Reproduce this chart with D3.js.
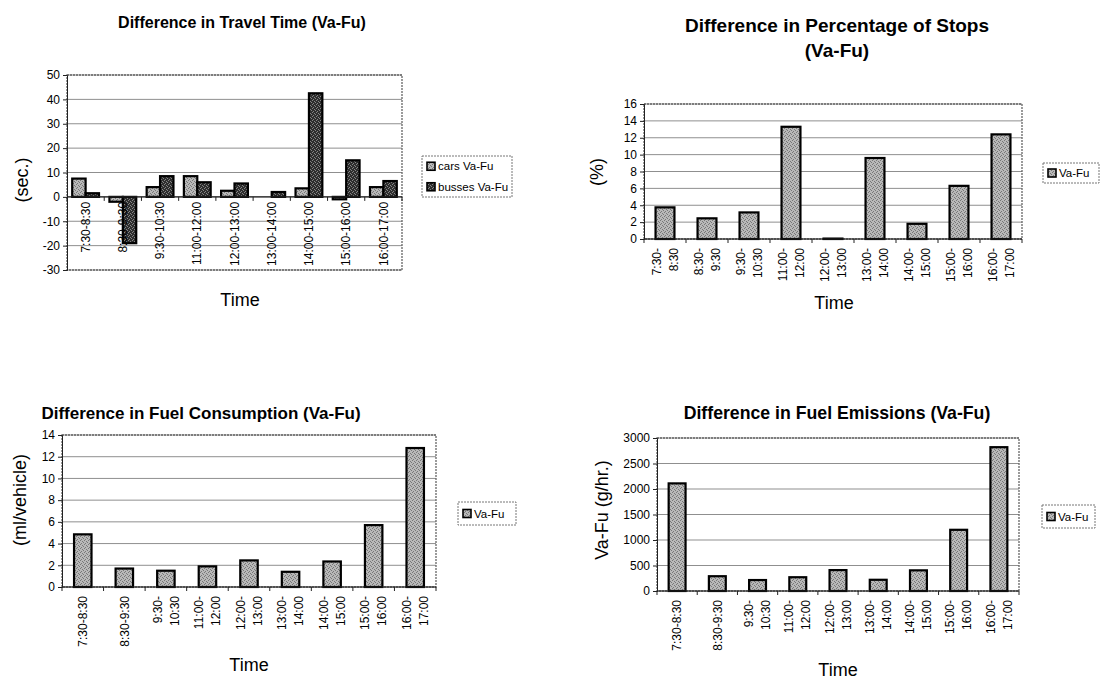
<!DOCTYPE html>
<html>
<head>
<meta charset="utf-8">
<script src="https://cdn.jsdelivr.net/npm/d3@7"></script>
<style>
  body { margin: 0; background: #fff; }
  text { font-family: "Liberation Sans", Arial, sans-serif; fill: #000; }
</style>
</head>
<body>
<script>
var width = 1114,
    height = 682;

// categories
var travelCats = ["7:30-8:30", "8:30-9:30", "9:30-10:30", "11:00-12:00", "12:00-13:00",
                  "13:00-14:00", "14:00-15:00", "15:00-16:00", "16:00-17:00"];
var stopsCats = ["7:30-\n8:30", "8:30-\n9:30", "9:30-\n10:30", "11:00-\n12:00", "12:00-\n13:00",
                 "13:00-\n14:00", "14:00-\n15:00", "15:00-\n16:00", "16:00-\n17:00"];
var fuelCats = ["7:30-8:30", "8:30-9:30", "9:30-\n10:30", "11:00-\n12:00", "12:00-\n13:00",
                "13:00-\n14:00", "14:00-\n15:00", "15:00-\n16:00", "16:00-\n17:00"];

// series values
var carsTravel = [7.5, -2, 4, 8.5, 2.5, 0, 3.5, -1, 4];
var bussesTravel = [1.5, -19, 8.5, 6, 5.5, 2, 42.5, 15, 6.5];
var stopsVals = [3.75, 2.45, 3.15, 13.3, 0.05, 9.6, 1.8, 6.3, 12.4];
var fuelVals = [4.85, 1.7, 1.5, 1.9, 2.45, 1.4, 2.35, 5.7, 12.8];
var emisVals = [2110, 290, 215, 270, 410, 220, 405, 1200, 2820];

// tick labels
var travelTicks = [-30, -20, -10, 0, 10, 20, 30, 40, 50];
var stopsTicks = [0, 2, 4, 6, 8, 10, 12, 14, 16];
var fuelTicks = [0, 2, 4, 6, 8, 10, 12, 14];
var emisTicks = [0, 500, 1000, 1500, 2000, 2500, 3000];

var svg = d3.select("body").append("svg")
    .attr("width", width)
    .attr("height", height);

svg.append("rect").attr("width", width).attr("height", height).attr("fill", "#fff");

// stippled fills like the scanned bars
var defs = svg.append("defs");
function stipple(id, base, dot) {
    var p = defs.append("pattern").attr("id", id)
        .attr("width", 4).attr("height", 4)
        .attr("patternUnits", "userSpaceOnUse");
    p.append("rect").attr("width", 4).attr("height", 4).attr("fill", base);
    [[0, 0], [2, 1], [1, 3], [3, 2]].forEach(function (d) {
        p.append("rect").attr("x", d[0]).attr("y", d[1])
            .attr("width", 1).attr("height", 1).attr("fill", dot);
    });
}
stipple("lightFill", "#b8b8b8", "#777");
stipple("darkFill", "#2e2e2e", "#858585");

function drawChart(o) {
    var g = svg.append("g");
    var x = d3.scaleBand().domain(o.cats).range([o.box[0], o.box[1]]);
    var y = d3.scaleLinear().domain([o.ticks[0], o.ticks[o.ticks.length - 1]])
        .range([o.box[3], o.box[2]]);
    var bw = x.bandwidth();
    var names = o.series.map(function (s) { return s.name; });
    var inner = d3.scaleBand().domain(names)
        .range([-bw * o.groupRatio / 2, bw * o.groupRatio / 2]);

    // gridlines
    g.selectAll(".grid").data(o.ticks).enter().append("line")
        .attr("x1", o.box[0]).attr("x2", o.box[1])
        .attr("y1", function (d) { return y(d); })
        .attr("y2", function (d) { return y(d); })
        .attr("stroke", "#8f8f8f").attr("stroke-width", 1);

    // plot border
    g.append("rect")
        .attr("x", o.box[0]).attr("y", o.box[2])
        .attr("width", o.box[1] - o.box[0]).attr("height", o.box[3] - o.box[2])
        .attr("fill", "none").attr("stroke", "#666")
        .attr("stroke-dasharray", "2,1").attr("stroke-width", 1.3);

    // y axis
    var yAxis = d3.axisLeft(y).tickValues(o.ticks).tickSize(4).tickPadding(3)
        .tickFormat(function (d) { return String(d); });
    var ya = g.append("g").attr("transform", "translate(" + o.box[0] + ",0)").call(yAxis);
    ya.select(".domain").attr("stroke", "#222");
    ya.selectAll("line").attr("stroke", "#222");
    ya.selectAll("text").attr("font-size", "12px")
        .attr("font-family", "Liberation Sans, Arial, sans-serif");

    // bars
    o.series.forEach(function (s) {
        g.selectAll(null).data(s.values).enter().append("rect")
            .attr("x", function (d, i) { return x(o.cats[i]) + bw / 2 + inner(s.name); })
            .attr("width", inner.bandwidth())
            .attr("y", function (d) { return y(Math.max(0, d)); })
            .attr("height", function (d) { return Math.abs(y(d) - y(0)); })
            .attr("fill", s.fill)
            .attr("stroke", "#000").attr("stroke-width", 2.2);
    });

    // category axis at zero
    var y0 = y(0);
    g.append("line").attr("x1", o.box[0]).attr("x2", o.box[1])
        .attr("y1", y0).attr("y2", y0).attr("stroke", "#222").attr("stroke-width", 1.2);
    g.selectAll(null).data(o.cats.concat([null])).enter().append("line")
        .attr("x1", function (d, i) { return o.box[0] + i * bw; })
        .attr("x2", function (d, i) { return o.box[0] + i * bw; })
        .attr("y1", y0).attr("y2", y0 + 4)
        .attr("stroke", "#222");

    // rotated category labels
    o.cats.forEach(function (c) {
        var lines = c.split("\n");
        var cx = x(c) + bw / 2;
        lines.forEach(function (t, j) {
            var lx = cx + (j - (lines.length - 1) / 2) * 17;
            g.append("text")
                .attr("transform", "translate(" + lx + "," + (y0 + o.labelGap) + ") rotate(-90)")
                .attr("text-anchor", "end")
                .attr("dy", "0.35em")
                .attr("font-size", "12px")
                .text(t);
        });
    });

    // titles
    o.title.forEach(function (t, j) {
        g.append("text").attr("x", o.titleX).attr("y", o.titleY + j * 25)
            .attr("text-anchor", "middle").attr("font-size", o.titleSize + "px")
            .attr("font-weight", "bold").text(t);
    });
    g.append("text").attr("x", o.timeX).attr("y", o.timeY)
        .attr("text-anchor", "middle").attr("font-size", "18px").text("Time");
    g.append("text")
        .attr("transform", "translate(" + o.yTitleX + "," + o.yTitleY + ") rotate(-90)")
        .attr("text-anchor", "middle").attr("dy", "0.35em")
        .attr("font-size", "18px").text(o.yTitle);

    // legend
    var L = o.legend;
    g.append("rect").attr("x", L[0]).attr("y", L[1]).attr("width", L[2]).attr("height", L[3])
        .attr("fill", "#fff").attr("stroke", "#777").attr("stroke-dasharray", "2,1");
    var step = L[3] / o.series.length;
    o.series.forEach(function (s, i) {
        var cy = L[1] + step * (i + 0.5);
        g.append("rect").attr("x", L[0] + 5).attr("y", cy - 4)
            .attr("width", 8).attr("height", 8)
            .attr("fill", s.fill).attr("stroke", "#000").attr("stroke-width", 1.6);
        g.append("text").attr("x", L[0] + 16).attr("y", cy).attr("dy", "0.35em")
            .attr("font-size", "11.5px").text(s.name);
    });
}

drawChart({
    cats: travelCats,
    series: [{ name: "cars Va-Fu", values: carsTravel, fill: "url(#lightFill)" },
             { name: "busses Va-Fu", values: bussesTravel, fill: "url(#darkFill)" }],
    ticks: travelTicks, box: [67, 402, 75, 270], groupRatio: 0.72, labelGap: 5,
    title: ["Difference in Travel Time (Va-Fu)"], titleX: 242, titleY: 28, titleSize: 16,
    timeX: 240, timeY: 306, yTitle: "(sec.)", yTitleX: 22, yTitleY: 180,
    legend: [422, 156, 90, 41]
});

drawChart({
    cats: stopsCats,
    series: [{ name: "Va-Fu", values: stopsVals, fill: "url(#lightFill)" }],
    ticks: stopsTicks, box: [644, 1022, 104, 239], groupRatio: 0.45, labelGap: 9,
    title: ["Difference in Percentage of Stops", "(Va-Fu)"], titleX: 837, titleY: 32, titleSize: 19,
    timeX: 834, timeY: 309, yTitle: "(%)", yTitleX: 597, yTitleY: 172,
    legend: [1043, 163, 56, 20]
});

drawChart({
    cats: fuelCats,
    series: [{ name: "Va-Fu", values: fuelVals, fill: "url(#lightFill)" }],
    ticks: fuelTicks, box: [62, 436, 435, 587], groupRatio: 0.42, labelGap: 9,
    title: ["Difference in Fuel Consumption (Va-Fu)"], titleX: 201, titleY: 419, titleSize: 17,
    timeX: 249, timeY: 671, yTitle: "(ml/vehicle)", yTitleX: 20, yTitleY: 500,
    legend: [458, 502, 58, 23]
});

drawChart({
    cats: fuelCats,
    series: [{ name: "Va-Fu", values: emisVals, fill: "url(#lightFill)" }],
    ticks: emisTicks, box: [657, 1019, 438, 591], groupRatio: 0.42, labelGap: 9,
    title: ["Difference in Fuel Emissions (Va-Fu)"], titleX: 837, titleY: 419, titleSize: 17.7,
    timeX: 838, timeY: 676, yTitle: "Va-Fu (g/hr.)", yTitleX: 602, yTitleY: 510,
    legend: [1042, 505, 53, 23]
});
</script>
</body>
</html>
